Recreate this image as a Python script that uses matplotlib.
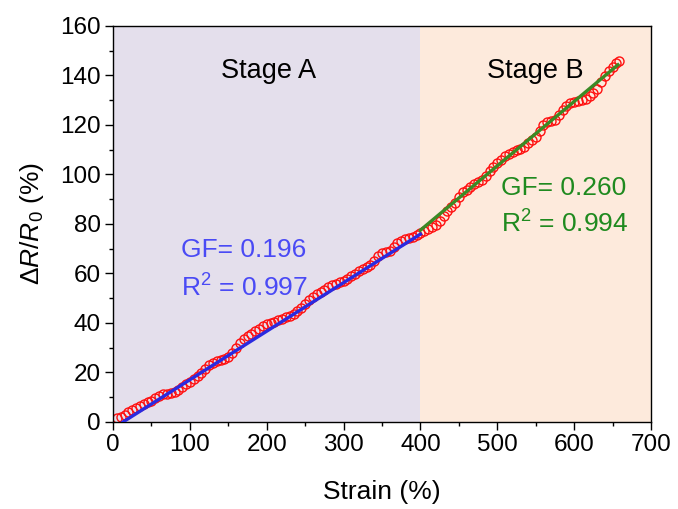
import matplotlib
matplotlib.use("Agg")
import matplotlib.pyplot as plt
from matplotlib.ticker import MultipleLocator

plt.rcParams['font.family'] = ['Liberation Sans', 'DejaVu Sans']
plt.rcParams['mathtext.fontset'] = 'custom'
plt.rcParams['mathtext.rm'] = 'Liberation Sans'
plt.rcParams['mathtext.it'] = 'Liberation Sans:italic'

# measured strain (%) vs relative resistance change (%)
strain = [5, 10, 15, 20, 25, 30, 35, 40, 45, 50, 55, 60, 65, 70, 75, 80, 85, 90, 95, 100,
          105, 110, 115, 120, 125, 130, 135, 140, 145, 150, 155, 160, 165, 170, 175, 180,
          185, 190, 195, 200, 205, 210, 215, 220, 225, 230, 235, 240, 245, 250, 255, 260,
          265, 270, 275, 280, 285, 290, 295, 300, 305, 310, 315, 320, 325, 330, 335, 340,
          345, 350, 355, 360, 365, 370, 375, 380, 385, 390, 395, 400,
          405, 410, 415, 420, 425, 430, 435, 440, 445, 450, 455, 460, 465, 470, 475, 480,
          485, 490, 495, 500, 505, 510, 515, 520, 525, 530, 535, 540, 545, 550, 555, 560,
          565, 570, 575, 580, 585, 590, 595, 600, 605, 610, 615, 620, 625, 630, 635, 640,
          645, 650, 655, 658]
dR = [1.5, 2.2, 3.0, 4.2, 5.0, 5.8, 6.6, 7.2, 7.9, 8.6, 9.6, 10.6, 11.1, 11.4, 11.7, 12.2,
      13.0, 14.0, 15.2, 16.3, 17.4, 18.6, 19.9, 21.4, 22.9, 23.8, 24.6, 25.0, 25.5, 26.4,
      28.0, 30.0, 31.9, 33.4, 34.6, 35.6, 36.6, 37.6, 38.6, 39.4, 40.0, 40.5, 41.0, 41.6,
      42.3, 43.0, 43.8, 44.8, 46.0, 47.5, 49.2, 50.6, 51.6, 52.4, 53.4, 54.4, 55.3, 55.9,
      56.4, 57.0, 57.8, 58.8, 59.8, 60.8, 61.8, 62.6, 63.6, 65.2, 67.0, 68.2, 68.6, 69.2,
      70.6, 72.2, 73.2, 73.8, 74.3, 74.9, 75.6, 76.3,
      77.2, 78.0, 78.6, 79.6, 81.0, 83.2, 85.2, 86.8, 88.6, 91.0, 92.8, 93.8, 94.8, 96.0,
      96.8, 97.6, 99.2, 101.2, 103.2, 104.8, 105.8, 107.3, 108.4, 109.2, 109.8, 110.4,
      111.2, 112.6, 113.8, 115.0, 117.4, 120.0, 121.2, 121.6, 122.2, 124.0, 126.2, 127.8,
      128.8, 129.4, 129.6, 129.9, 130.6, 131.6, 133.0, 134.6, 137.4, 139.8, 141.6, 143.4,
      145.2, 146.0]

# linear fits for the two stages
fitA_x = [13, 400]
fitA_y = [0.0, 75.9]
fitB_x = [400, 657]
fitB_y = [77.5, 144.3]

fig = plt.figure(figsize=(6.78, 5.09), dpi=100)
ax = fig.add_axes([0.1667, 0.171, 0.7935, 0.778])

ax.axvspan(0, 400, color='#e4dfec', zorder=0, lw=0)
ax.axvspan(400, 700, color='#fdeadc', zorder=0, lw=0)

ax.plot(strain, dR, 'o', mfc='none', mec='#ff1010', ms=6.5, mew=1.0, zorder=2)
ax.plot(fitA_x, fitA_y, '-', color='#2a2ae0', lw=2.4, zorder=3)
ax.plot(fitB_x, fitB_y, '-', color='#3b8a25', lw=2.4, zorder=3)

ax.text(202, 142, 'Stage A', fontsize=19.5, ha='center', va='center')
ax.text(549, 142, 'Stage B', fontsize=19.5, ha='center', va='center')
ax.text(89, 69.5, 'GF= 0.196', fontsize=19, color='#4a4af5', va='center')
ax.text(89, 54, r'R$^2$ = 0.997', fontsize=19, color='#4a4af5', va='center')
ax.text(505, 94.5, 'GF= 0.260', fontsize=19, color='#1f8a1f', va='center')
ax.text(505, 80, r'R$^2$ = 0.994', fontsize=19, color='#1f8a1f', va='center')

ax.set_xlim(0, 700)
ax.set_ylim(0, 160)
ax.xaxis.set_major_locator(MultipleLocator(100))
ax.xaxis.set_minor_locator(MultipleLocator(50))
ax.yaxis.set_major_locator(MultipleLocator(20))
ax.yaxis.set_minor_locator(MultipleLocator(10))
ax.tick_params(which='major', direction='out', length=6, width=1.0, labelsize=17.5, pad=3)
ax.tick_params(which='minor', direction='out', length=3, width=1.0)
for s in ax.spines.values():
    s.set_linewidth(1.0)

ax.set_xlabel('Strain (%)', fontsize=19, labelpad=17)
ax.set_ylabel(r'$\Delta\mathit{R}/\mathit{R}_0$ (%)', fontsize=19, labelpad=10)

fig.savefig('out.png', dpi=100)
